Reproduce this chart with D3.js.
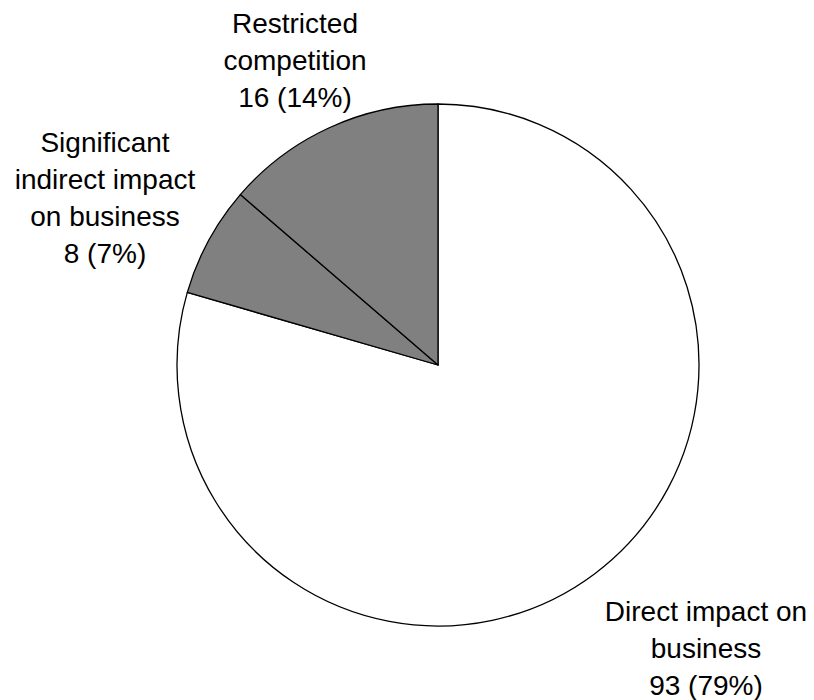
<!DOCTYPE html>
<html>
<head>
<meta charset="utf-8">
<script src="https://cdn.jsdelivr.net/npm/d3@7"></script>
<style>
  html, body { margin: 0; padding: 0; background: #fff; }
  svg { display: block; }
  text { font-family: "Liberation Sans", Arial, sans-serif; fill: #000; }
</style>
</head>
<body>
<svg id="chart" width="814" height="700"></svg>
<script>
// Impact categories, counts and slice fills
const categories = ["Direct impact on business", "Significant indirect impact on business", "Restricted competition"];
const counts = [93, 8, 16];
const fills = ["#ffffff", "#808080", "#808080"];
// Label lines per slice (count and share appended from the data)
const labelLines = [["Direct impact on", "business"], ["Significant", "indirect impact", "on business"], ["Restricted", "competition"]];
// Label anchor (x of centre, y of first baseline)
const labelPos = [[706, 621], [105, 152], [295, 33]];
const lineGap = 37;

const cx = 438, cy = 365, R = 261;

const svg = d3.select("#chart");
const g = svg.append("g").attr("transform", `translate(${cx},${cy})`);

const total = d3.sum(counts);
const pie = d3.pie().sort(null).value(d => d)(counts);
const arc = d3.arc().innerRadius(0).outerRadius(R);

g.selectAll("path.slice")
  .data(pie)
  .join("path")
  .attr("class", "slice")
  .attr("d", arc)
  .attr("fill", (d, i) => fills[i])
  .attr("stroke", "#000")
  .attr("stroke-width", 1.3)
  .attr("stroke-linejoin", "round");

const labels = svg.selectAll("text.lbl")
  .data(pie)
  .join("text")
  .attr("class", "lbl")
  .attr("text-anchor", "middle")
  .attr("font-size", 28);

labels.each(function (d, i) {
  const lines = labelLines[i].concat([`${counts[i]} (${Math.round(counts[i] / total * 100)}%)`]);
  d3.select(this).selectAll("tspan")
    .data(lines)
    .join("tspan")
    .attr("x", labelPos[i][0])
    .attr("y", (s, k) => labelPos[i][1] + k * lineGap)
    .text(s => s);
});
</script>
</body>
</html>
